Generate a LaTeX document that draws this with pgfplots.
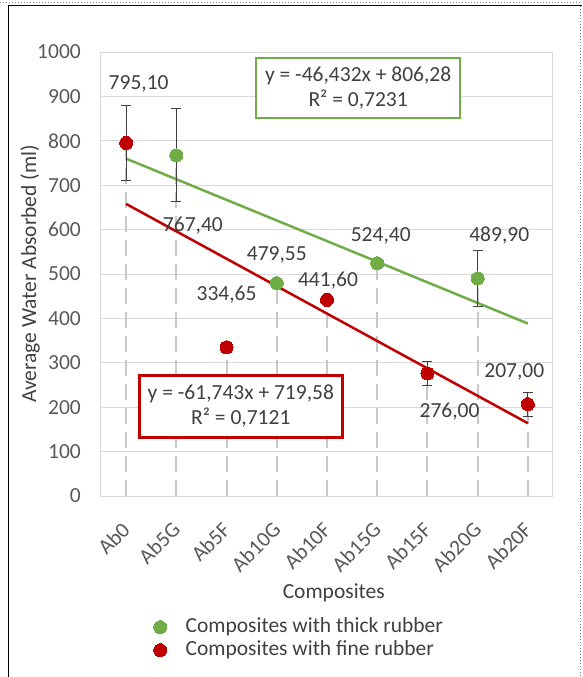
\documentclass[border=0pt]{standalone}
\usepackage{fontspec}
\setmainfont{Carlito}
\usepackage{pgfplots}
\pgfplotsset{compat=1.18}
\definecolor{xlgreen}{HTML}{70AD47}
\definecolor{xlred}{HTML}{C00000}
\definecolor{gridgrey}{HTML}{D9D9D9}
\definecolor{dropgrey}{HTML}{C8C8C8}
\definecolor{txt}{HTML}{404040}
\definecolor{tickc}{HTML}{595959}
\newcommand{\fs}{\fontsize{21.5}{25}\selectfont}
\begin{document}
\begin{tikzpicture}
\path[use as bounding box] (0pt,0pt) rectangle (582pt,-677pt);
\draw[black, line width=1pt] (8pt,-677pt) -- (8pt,-6pt) -- (582pt,-6pt);
\draw[gray, dotted, line width=1pt] (0pt,-2.5pt) -- (582pt,-2.5pt);
\draw[gray, dotted, line width=1pt] (580pt,-6pt) -- (580pt,-677pt);
\begin{axis}[
  at={(101pt,-496pt)}, anchor=south west,
  scale only axis, width=452pt, height=444pt,
  xmin=-0.5, xmax=8.5, ymin=0, ymax=1000,
  xtick={0,...,8},
  xticklabels={Ab0,Ab5G,Ab5F,Ab10G,Ab10F,Ab15G,Ab15F,Ab20G,Ab20F},
  ytick={0,100,...,1000},
  ymajorgrids, grid style={gridgrey, line width=1pt},
  axis line style={gridgrey, line width=1pt},
  major tick length=0pt, tick style={draw=none},
  ticklabel style={font=\fs, text=tickc},
  /pgf/number format/assume math mode=true,
  /pgf/number format/1000 sep={},
  yticklabel style={anchor=east, inner sep=0pt},
  yticklabel shift=20pt,
  xticklabel style={rotate=45, anchor=east, inner sep=0pt},
  xticklabel shift=30pt,
  xlabel={Composites},
  xlabel style={at={(axis description cs:0.515,-0.218)}, anchor=center, font=\fs, text=txt},
  ylabel={Average Water Absorbed (ml)},
  ylabel style={at={(axis description cs:-0.157,0.5)}, anchor=center, font=\fs, text=txt},
  legend style={at={(axis description cs:0.116,-0.270)}, anchor=north west, draw=none, fill=none,
    font=\fs, text=txt, inner sep=0pt, row sep=1pt,
    nodes={inner sep=1pt, text height=15pt, text depth=5pt}},
  legend cell align=left,
]
% drop lines
\addplot[forget plot, ycomb, dropgrey, line width=2pt, dash pattern=on 16pt off 8pt]
  coordinates {(0,795.10) (1,767.40) (2,334.65) (3,479.55) (4,441.60) (5,524.40) (6,276.00) (7,489.90) (8,207.00)};
% trendlines
\addplot[forget plot, xlgreen, line width=2.5pt] coordinates {(0,759.848) (8,388.392)};
\addplot[forget plot, xlred, line width=2.5pt] coordinates {(0,657.837) (8,163.893)};
% markers with error bars
\addplot[xlgreen, only marks, mark=*, mark size=6.5pt, mark options={solid, fill=xlgreen, draw=xlgreen, line width=0pt},
  error bars/.cd, y dir=both, y explicit,
  error bar style={txt, line width=1pt},
  error mark=|,
  error mark options={txt, line width=1pt, mark size=5pt}]
  coordinates {(1,767.40) +- (0,105) (3,479.55) +- (0,0) (5,524.40) +- (0,0) (7,489.90) +- (0,62)};
\addlegendentry{\hspace{18pt}Composites with thick rubber}
\addplot[xlred, only marks, mark=*, mark size=6.5pt, mark options={solid, fill=xlred, draw=xlred, line width=0pt},
  error bars/.cd, y dir=both, y explicit,
  error bar style={txt, line width=1pt},
  error mark=|,
  error mark options={txt, line width=1pt, mark size=5pt}]
  coordinates {(0,795.10) +- (0,85) (2,334.65) +- (0,0) (4,441.60) +- (0,0) (6,276.00) +- (0,28) (8,207.00) +- (0,27)};
\addlegendentry{\hspace{18pt}Composites with fine rubber}
% data labels
\begin{scope}[every node/.style={font=\fs, text=txt}]
\node at (axis cs:0.25,928) {795,10};
\node at (axis cs:1.33,609) {767,40};
\node at (axis cs:2.0,453) {334,65};
\node at (axis cs:3.0,543) {479,55};
\node at (axis cs:4.02,486) {441,60};
\node at (axis cs:5.07,586) {524,40};
\node at (axis cs:6.44,191) {276,00};
\node at (axis cs:7.43,586) {489,90};
\node at (axis cs:7.73,279) {207,00};
\end{scope}
% equation boxes
\node[draw=xlgreen, fill=white, line width=2.5pt, minimum width=204pt, minimum height=60pt,
  align=center, font=\fs, text=txt, inner sep=0pt] at (axis cs:4.62,918.9)
  {y = -46,432x + 806,28\\R² = 0,7231};
\node[draw=xlred, fill=white, line width=2.5pt, minimum width=203pt, minimum height=62pt,
  align=center, font=\fs, text=txt, inner sep=0pt] at (axis cs:2.284,201.6)
  {y = -61,743x + 719,58\\R² = 0,7121};
\end{axis}
\end{tikzpicture}
\end{document}
